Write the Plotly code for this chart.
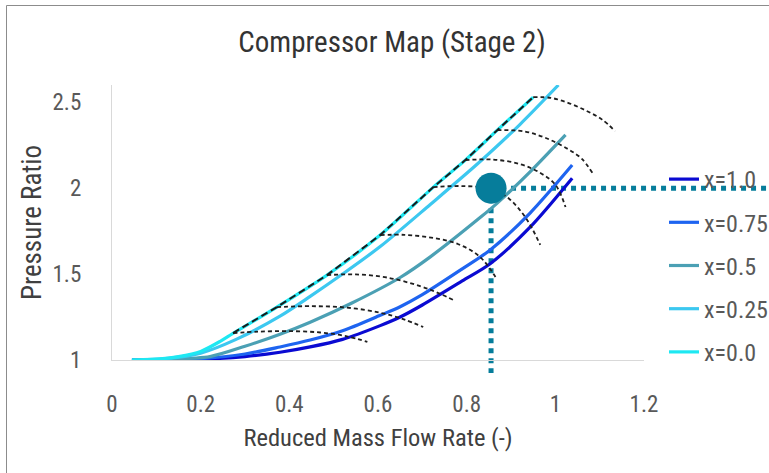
import plotly.graph_objects as go

# ---- speed lines (reduced mass flow vs pressure ratio) ----
speed_labels = ["x=1.0", "x=0.75", "x=0.5", "x=0.25", "x=0.0"]
speed_colors = ["#0a0ad2", "#1e64f0", "#4ba0b4", "#3cc8f0", "#1ee8f2"]

mf_x100 = [0.045, 0.12, 0.20, 0.30, 0.379, 0.447, 0.52, 0.605, 0.65, 0.70, 0.79, 0.853, 0.943, 1.038]
pr_x100 = [1.000, 1.001, 1.004, 1.020, 1.045, 1.076, 1.12, 1.200, 1.25, 1.32, 1.46, 1.560, 1.773, 2.058]

mf_x075 = [0.045, 0.12, 0.20, 0.30, 0.379, 0.447, 0.52, 0.605, 0.65, 0.70, 0.79, 0.853, 0.943, 1.038]
pr_x075 = [1.000, 1.002, 1.008, 1.035, 1.076, 1.116, 1.17, 1.26, 1.31, 1.38, 1.53, 1.64, 1.855, 2.134]

mf_x050 = [0.045, 0.12, 0.221, 0.30, 0.379, 0.447, 0.54, 0.65, 0.718, 0.831, 0.869, 0.943, 1.023]
pr_x050 = [1.000, 1.004, 1.020, 1.080, 1.150, 1.220, 1.33, 1.48, 1.600, 1.830, 1.913, 2.095, 2.31]

mf_x025 = [0.045, 0.12, 0.20, 0.28, 0.379, 0.447, 0.52, 0.605, 0.718, 0.824, 0.92, 1.007]
pr_x025 = [1.000, 1.008, 1.04, 1.12, 1.255, 1.370, 1.50, 1.660, 1.905, 2.140, 2.37, 2.600]

mf_x000 = [0.045, 0.10, 0.15, 0.20, 0.245, 0.273, 0.372, 0.485, 0.605, 0.725, 0.797, 0.869, 0.950]
pr_x000 = [1.000, 1.005, 1.02, 1.05, 1.110, 1.155, 1.308, 1.494, 1.727, 2.006, 2.163, 2.337, 2.529]

speed_mf = [mf_x100, mf_x075, mf_x050, mf_x025, mf_x000]
speed_pr = [pr_x100, pr_x075, pr_x050, pr_x025, pr_x000]

# ---- surge line ----
surge_mf = [0.273, 0.372, 0.485, 0.605, 0.725, 0.797, 0.869, 0.950]
surge_pr = [1.157, 1.308, 1.494, 1.727, 2.006, 2.163, 2.337, 2.529]

# ---- constant-speed characteristics (dashed arcs), low to high ----
arc_mf = [
    [0.273, 0.33, 0.40, 0.47, 0.53, 0.576],
    [0.372, 0.45, 0.53, 0.605, 0.66, 0.702],
    [0.485, 0.55, 0.62, 0.695, 0.74, 0.77],
    [0.605, 0.66, 0.72, 0.78, 0.83, 0.865],
    [0.725, 0.79, 0.855, 0.895, 0.935, 0.966],
    [0.797, 0.86, 0.92, 0.965, 1.0, 1.023],
    [0.869, 0.93, 0.98, 1.03, 1.06, 1.084],
    [0.950, 0.99, 1.03, 1.07, 1.105, 1.135],
]
arc_pr = [
    [1.157, 1.165, 1.168, 1.160, 1.138, 1.105],
    [1.308, 1.313, 1.305, 1.275, 1.235, 1.192],
    [1.494, 1.498, 1.480, 1.430, 1.385, 1.349],
    [1.727, 1.728, 1.712, 1.675, 1.600, 1.483],
    [2.006, 2.012, 1.995, 1.940, 1.820, 1.670],
    [2.163, 2.166, 2.140, 2.090, 2.020, 1.890],
    [2.337, 2.330, 2.290, 2.225, 2.170, 2.087],
    [2.529, 2.525, 2.495, 2.450, 2.400, 2.331],
]

# ---- operating point ----
op_mf = [0.855]
op_pr = [2.0]

# ---- axes ----
x_range = [0, 1.2]
y_range = [1, 2.6]
x_ticks = [0, 0.2, 0.4, 0.6, 0.8, 1.0, 1.2]
x_ticktext = ["0", "0.2", "0.4", "0.6", "0.8", "1", "1.2"]
y_ticks = [1, 1.5, 2, 2.5]
y_ticktext = ["1", "1.5", "2", "2.5"]

W, H = 769, 473
ML, MR, MT, MB = 112, 125, 85, 113
PW, PH = W - ML - MR, H - MT - MB

FONT = "Roboto Condensed, Liberation Sans Narrow, Lato, sans-serif"
OP_COLOR = "#067d9b"


def px_to_paper_x(px):
    return (px - ML) / PW


def py_to_paper_y(py):
    return (H - MB - py) / PH


fig = go.Figure()

for i, (lab, col) in enumerate(zip(speed_labels, speed_colors)):
    fig.add_trace(go.Scatter(
        x=speed_mf[i], y=speed_pr[i], mode="lines", name=lab,
        line=dict(color=col, width=3.2, shape="spline", smoothing=0.8),
        legendgroup=lab, hoverinfo="skip",
    ))

for mf, pr in zip(arc_mf, arc_pr):
    fig.add_trace(go.Scatter(
        x=mf, y=pr, mode="lines", showlegend=False, hoverinfo="skip",
        line=dict(color="#1f1f1f", width=1.8, dash="4px,3px", shape="spline", smoothing=1.0),
    ))

fig.add_trace(go.Scatter(
    x=surge_mf, y=surge_pr, mode="lines", showlegend=False, hoverinfo="skip",
    line=dict(color="#1a1a1a", width=2, dash="7px,4px"),
))

fig.add_trace(go.Scatter(
    x=op_mf, y=op_pr, mode="markers", showlegend=False, hoverinfo="skip",
    marker=dict(size=31, color=OP_COLOR, line=dict(width=0)),
))

# dotted guide lines from the operating point
op_px = (op_mf[0] - x_range[0]) / (x_range[1] - x_range[0])
op_py = (op_pr[0] - y_range[0]) / (y_range[1] - y_range[0])
fig.add_shape(type="line", layer="below", xref="paper", yref="y",
              x0=op_px, x1=px_to_paper_x(775), y0=op_pr[0], y1=op_pr[0],
              line=dict(color=OP_COLOR, width=5, dash="5px,5px"))
fig.add_shape(type="line", layer="below", xref="x", yref="paper",
              x0=op_mf[0], x1=op_mf[0], y0=op_py, y1=py_to_paper_y(373),
              line=dict(color=OP_COLOR, width=5, dash="5px,5px"))

# chart frame
fig.add_shape(type="rect", xref="paper", yref="paper",
              x0=px_to_paper_x(6.5), x1=px_to_paper_x(790),
              y0=py_to_paper_y(5.5), y1=py_to_paper_y(490),
              line=dict(color="#8c8c8c", width=1), fillcolor="rgba(0,0,0,0)")

fig.update_layout(
    width=W, height=H,
    margin=dict(l=ML, r=MR, t=MT, b=MB, autoexpand=False),
    paper_bgcolor="white", plot_bgcolor="white",
    font=dict(family=FONT, color="#595959"),
    title=dict(text="Compressor Map (Stage 2)", x=392 / W, xref="container",
               xanchor="center", y=1 - 42 / H, yref="container", yanchor="middle",
               font=dict(size=29, color="#333333", family=FONT)),
    showlegend=True,
    legend=dict(x=px_to_paper_x(664), y=py_to_paper_y(157), xanchor="left", yanchor="top",
                font=dict(size=24, color="#595959", family=FONT),
                tracegroupgap=9, bgcolor="rgba(0,0,0,0)", itemclick=False),
)

fig.update_xaxes(
    range=x_range, tickmode="array", tickvals=x_ticks, ticktext=x_ticktext,
    showgrid=False, zeroline=False, showline=True, linecolor="#d9d9d9", linewidth=1.2,
    ticks="", ticklabelstandoff=23, automargin=False,
    tickfont=dict(size=23, color="#595959", family=FONT),
    title=dict(text="Reduced Mass Flow Rate (-)", standoff=12,
               font=dict(size=24.5, color="#404040", family=FONT)),
)
fig.update_yaxes(
    range=y_range, tickmode="array", tickvals=y_ticks, ticktext=y_ticktext,
    showgrid=False, zeroline=False, showline=True, linecolor="#d9d9d9", linewidth=1.2,
    ticks="", ticklabelstandoff=25, automargin=False,
    tickfont=dict(size=23, color="#595959", family=FONT),
    title=dict(text="Pressure Ratio", standoff=3,
               font=dict(size=27, color="#404040", family=FONT)),
)

fig.write_html("out.html")
